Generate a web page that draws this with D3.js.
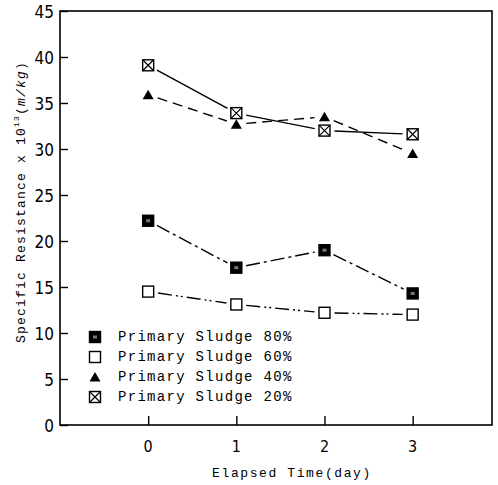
<!DOCTYPE html>
<html>
<head>
<meta charset="utf-8">
<script src="https://cdn.jsdelivr.net/npm/d3@7"></script>
<style>
body { margin: 0; background: #fff; }
</style>
</head>
<body>
<script>
var days = [0, 1, 2, 3];
var yTicks = [0, 5, 10, 15, 20, 25, 30, 35, 40, 45];
var sludge80 = [22.2, 17.1, 19.0, 14.3];
var sludge60 = [14.5, 13.1, 12.2, 12.0];
var sludge40 = [35.9, 32.7, 33.5, 29.5];
var sludge20 = [39.1, 33.9, 32.0, 31.6];
var labels = ["Primary Sludge 80%", "Primary Sludge 60%", "Primary Sludge 40%", "Primary Sludge 20%"];

var w = 498, h = 485;
var margin = {top: 11, right: 6, bottom: 60, left: 60};

var svg = d3.select("body").append("svg")
    .attr("width", w)
    .attr("height", h);

var x = d3.scaleLinear().domain([-1, 3.9]).range([margin.left, w - margin.right]);
var y = d3.scaleLinear().domain([0, 45]).range([h - margin.bottom, margin.top]);

var mono = "Liberation Mono, Courier New, monospace";
var narrow = "Liberation Sans Narrow, DejaVu Sans Condensed, sans-serif";

// frame
svg.append("rect")
    .attr("x", x(-1)).attr("y", y(45))
    .attr("width", x(3.9) - x(-1)).attr("height", y(0) - y(45))
    .attr("fill", "none").attr("stroke", "#000").attr("stroke-width", 1.6);

// axes, ticks pointing inward
var yAxis = svg.append("g")
    .attr("transform", "translate(" + x(-1) + ",0)")
    .call(d3.axisRight(y).tickValues(yTicks).tickSize(8).tickFormat(""));
yAxis.select(".domain").remove();
yAxis.selectAll("line").attr("stroke-width", 1.4);

svg.selectAll(".ylab")
    .data(yTicks).enter()
    .append("text")
    .attr("class", "ylab")
    .attr("x", x(-1) - 6)
    .attr("y", function (d) { return y(d) + 6.5; })
    .attr("text-anchor", "end")
    .attr("font-family", narrow)
    .attr("font-size", 17)
    .text(function (d) { return d; });

var xAxis = svg.append("g")
    .attr("transform", "translate(0," + y(0) + ")")
    .call(d3.axisTop(x).tickValues(days).tickSize(9).tickFormat(""));
xAxis.select(".domain").remove();
xAxis.selectAll("line").attr("stroke-width", 1.4);

svg.selectAll(".xlab")
    .data(days).enter()
    .append("text")
    .attr("class", "xlab")
    .attr("x", function (d) { return x(d); })
    .attr("y", y(0) + 27)
    .attr("text-anchor", "middle")
    .attr("font-family", narrow)
    .attr("font-size", 16)
    .text(function (d) { return d; });

// axis titles
svg.append("text")
    .attr("x", 292)
    .attr("y", 477)
    .attr("text-anchor", "middle")
    .attr("font-family", mono)
    .attr("font-size", 13)
    .attr("letter-spacing", 1.6)
    .text("Elapsed Time(day)");

var yt = svg.append("text")
    .attr("transform", "translate(25," + 202 + ") rotate(-90)")
    .attr("text-anchor", "middle")
    .attr("font-family", mono)
    .attr("font-size", 13)
    .attr("letter-spacing", 1.2);
yt.append("tspan").text("Specific Resistance x 10");
yt.append("tspan").attr("dy", -6).attr("font-size", 8).text("13");
yt.append("tspan").attr("dy", 6).text("(");
yt.append("tspan").attr("font-style", "italic").text("m/kg");
yt.append("tspan").text(")");

// series lines
var series = [
    {vals: sludge80, dash: "14,4,3,4", marker: "sq80"},
    {vals: sludge60, dash: "14,4,2,3,2,4", marker: "sq60"},
    {vals: sludge40, dash: "10,6", marker: "tri"},
    {vals: sludge20, dash: null, marker: "sqx"}
];

// segments stop short of the markers, as in the print
var gap = 10;
series.forEach(function (s) {
    for (var i = 0; i < s.vals.length - 1; i++) {
        var x1 = x(days[i]), y1 = y(s.vals[i]);
        var x2 = x(days[i + 1]), y2 = y(s.vals[i + 1]);
        var len = Math.sqrt((x2 - x1) * (x2 - x1) + (y2 - y1) * (y2 - y1));
        var ux = (x2 - x1) / len, uy = (y2 - y1) / len;
        svg.append("line")
            .attr("x1", x1 + ux * gap).attr("y1", y1 + uy * gap)
            .attr("x2", x2 - ux * gap).attr("y2", y2 - uy * gap)
            .attr("stroke", "#000")
            .attr("stroke-width", 1.4)
            .attr("stroke-dasharray", s.dash);
    }
});

function drawMarker(g, type, cx, cy) {
    var r = 5.5;
    if (type == "tri") {
        g.append("path")
            .attr("d", "M" + cx + "," + (cy - 5) + "L" + (cx + 5.5) + "," + (cy + 4.5) + "L" + (cx - 5.5) + "," + (cy + 4.5) + "Z")
            .attr("fill", "#000");
        return;
    }
    g.append("rect")
        .attr("x", cx - r).attr("y", cy - r)
        .attr("width", 2 * r).attr("height", 2 * r)
        .attr("fill", type == "sq80" ? "#000" : "#fff")
        .attr("stroke", "#000").attr("stroke-width", 1.4);
    if (type == "sq80") {
        g.append("rect")
            .attr("x", cx - 2).attr("y", cy - 1.5)
            .attr("width", 4).attr("height", 3)
            .attr("fill", "#777");
    }
    if (type == "sqx") {
        g.append("path")
            .attr("d", "M" + (cx - r) + "," + (cy - r) + "L" + (cx + r) + "," + (cy + r) +
                "M" + (cx + r) + "," + (cy - r) + "L" + (cx - r) + "," + (cy + r))
            .attr("stroke", "#000").attr("stroke-width", 1.2);
    }
}

series.forEach(function (s) {
    var g = svg.append("g");
    s.vals.forEach(function (v, i) {
        drawMarker(g, s.marker, x(days[i]), y(v));
    });
});

// legend
var legend = svg.append("g");
labels.forEach(function (lab, i) {
    var ly = 341 + i * 20;
    drawMarker(legend, series[i].marker, 95, ly - 4);
    legend.append("text")
        .attr("x", 118)
        .attr("y", ly)
        .attr("font-family", mono)
        .attr("font-size", 14)
        .attr("letter-spacing", 1.3)
        .text(lab);
});
</script>
</body>
</html>
